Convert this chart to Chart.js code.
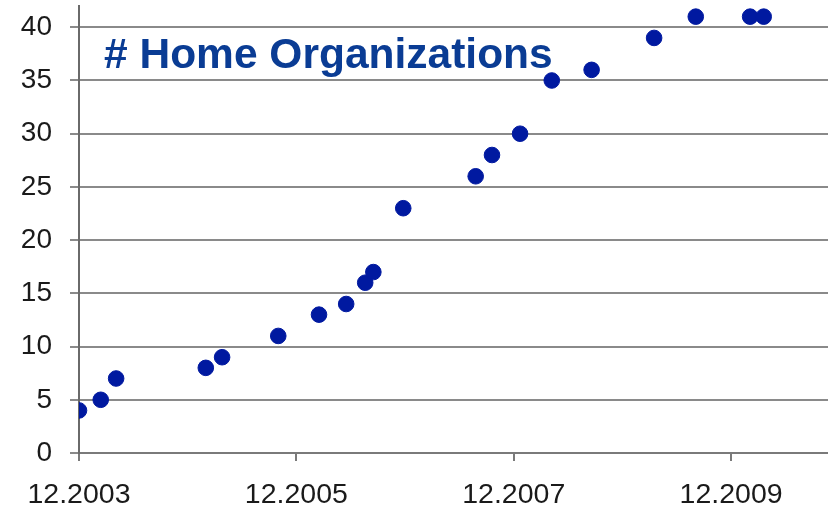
<!DOCTYPE html>
<html>
<head>
<meta charset="utf-8">
<script src="https://cdn.jsdelivr.net/npm/chart.js@4"></script>
<style>
  body { margin: 0; background: #fff; }
  #wrap { position: relative; width: 828px; height: 512px; }
</style>
</head>
<body>
<div id="wrap"><canvas id="homeChart"></canvas></div>
<script>
  // months after Dec 2003, number of home organizations
  const months = [0, 2.4, 4.1, 14.0, 15.8, 22.0, 26.5, 29.5, 31.6, 32.5, 35.8, 43.8, 45.6, 48.7, 52.2, 56.6, 63.5, 68.1, 74.1, 75.6];
  const orgs = [4, 5, 7, 8, 9, 11, 13, 14, 16, 17, 23, 26, 28, 30, 35, 36, 39, 41, 41, 41];
  const xTickLabels = ["12.2003", "12.2005", "12.2007", "12.2009"];
  const titleText = "# Home Organizations";

  const points = months.map((m, i) => ({ x: m, y: orgs[i] }));

  // title sits inside the plot area, top left
  const innerTitle = {
    id: "innerTitle",
    afterDatasetsDraw(chart) {
      const ctx = chart.ctx;
      ctx.save();
      ctx.font = "bold 42.5px 'Liberation Sans', Arial, sans-serif";
      ctx.fillStyle = "#0a3c94";
      ctx.textBaseline = "alphabetic";
      ctx.fillText(titleText, 104, 68);
      ctx.restore();
    }
  };

  const font = "'Liberation Sans', Arial, sans-serif";

  new Chart(document.getElementById("homeChart"), {
    type: "scatter",
    data: {
      datasets: [{
        data: points,
        backgroundColor: "#0019a0",
        borderColor: "#0019a0",
        pointRadius: 7.8,
        pointHoverRadius: 7.8
      }]
    },
    options: {
      responsive: true,
      maintainAspectRatio: false,
      animation: false,
      layout: { autoPadding: false, padding: { top: 6, right: 0, left: 0, bottom: 0 } },
      plugins: { legend: { display: false }, tooltip: { enabled: false } },
      scales: {
        x: {
          type: "linear",
          min: 0,
          max: 82.7,
          afterFit(scale) {
            scale.height = 59;
            scale.paddingLeft = 0;
            scale.paddingRight = 0;
          },
          border: { color: "#7a7a7a", width: 2 },
          grid: { drawOnChartArea: false, drawTicks: true, tickLength: 8, color: "#7a7a7a", lineWidth: 2 },
          ticks: {
            stepSize: 24,
            includeBounds: false,
            maxRotation: 0,
            padding: 17,
            color: "#1a1a1a",
            font: { family: font, size: 28.5 },
            callback: v => xTickLabels[v / 24] ?? ""
          }
        },
        y: {
          min: 0,
          max: 42,
          afterFit(scale) {
            scale.width = 79;
            scale.paddingTop = 0;
            scale.paddingBottom = 0;
          },
          border: { color: "#6a6a6a", width: 2 },
          grid: { color: "#8a8a8a", lineWidth: 2, tickLength: 9 },
          ticks: {
            stepSize: 5,
            includeBounds: false,
            padding: 18,
            color: "#1a1a1a",
            font: { family: font, size: 28 }
          }
        }
      }
    },
    plugins: [innerTitle]
  });
</script>
</body>
</html>
